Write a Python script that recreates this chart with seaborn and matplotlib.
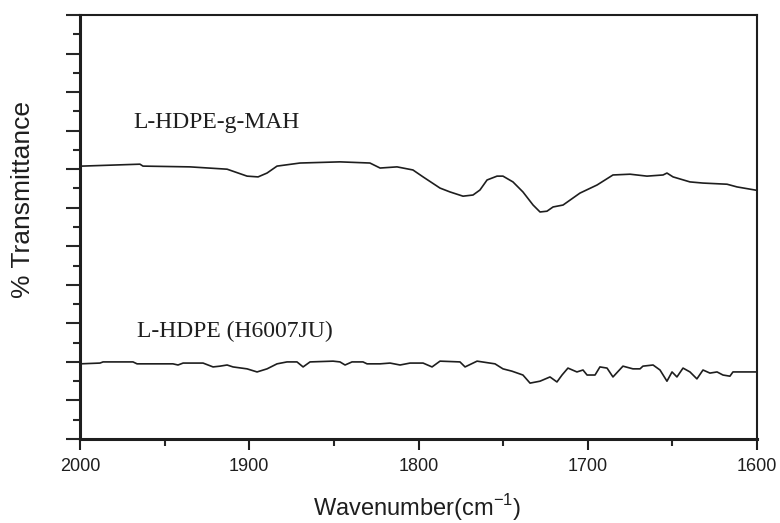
import matplotlib
matplotlib.use("Agg")
import matplotlib.pyplot as plt
from matplotlib.ticker import MultipleLocator, NullFormatter
import seaborn as sns
import pandas as pd

# Upper spectrum: L-HDPE-g-MAH
wn_mah = [2000, 1998.8, 1964.6, 1962.8, 1935.0, 1913.1, 1901.3, 1894.8, 1889.5, 1883.6,
          1870.0, 1846.4, 1828.7, 1822.7, 1812.7, 1803.3, 1797.3, 1787.3, 1781.4, 1773.7,
          1767.8, 1763.7, 1759.5, 1753.6, 1750.1, 1744.2, 1738.3, 1732.3, 1728.2, 1724.1,
          1720.5, 1714.6, 1704.6, 1694.5, 1685.1, 1675.0, 1665.0, 1655.5, 1653.2, 1649.6,
          1639.6, 1631.9, 1617.7, 1611.8, 1601.2, 1600]
tr_mah = [7.08, 7.08, 7.13, 7.08, 7.06, 7.00, 6.82, 6.80, 6.90, 7.08,
          7.16, 7.19, 7.16, 7.03, 7.06, 6.98, 6.80, 6.51, 6.41, 6.30,
          6.33, 6.46, 6.72, 6.82, 6.82, 6.67, 6.41, 6.07, 5.89, 5.91,
          6.02, 6.07, 6.38, 6.59, 6.85, 6.87, 6.82, 6.85, 6.90, 6.80,
          6.67, 6.64, 6.61, 6.54, 6.46, 6.45]

# Lower spectrum: L-HDPE (H6007JU)
wn_hdpe = [2000, 1988.2, 1986.4, 1968.7, 1966.3, 1945.1, 1942.1, 1939.1, 1927.3, 1921.4,
           1917.3, 1913.1, 1909.6, 1901.3, 1895.4, 1889.5, 1883.6, 1877.7, 1871.8, 1868.2,
           1864.1, 1850.5, 1846.4, 1843.4, 1839.3, 1832.8, 1830.4, 1822.7, 1816.8, 1810.9,
           1805.0, 1797.3, 1792.0, 1787.3, 1775.5, 1772.5, 1765.4, 1754.8, 1750.1, 1744.8,
           1738.3, 1734.1, 1728.2, 1722.3, 1718.2, 1715.2, 1711.7, 1706.4, 1702.8, 1700.4,
           1695.7, 1692.8, 1688.6, 1685.1, 1679.2, 1673.3, 1669.1, 1667.4, 1661.4, 1657.3,
           1653.2, 1650.2, 1647.3, 1643.7, 1639.6, 1635.5, 1631.9, 1627.8, 1623.6, 1620.1,
           1616.0, 1614.2, 1600.0]
tr_hdpe = [1.95, 1.97, 2.00, 2.00, 1.95, 1.95, 1.92, 1.97, 1.97, 1.87,
           1.89, 1.92, 1.87, 1.82, 1.74, 1.82, 1.95, 2.00, 2.00, 1.87,
           2.00, 2.02, 2.00, 1.92, 2.00, 2.00, 1.95, 1.95, 1.97, 1.92,
           1.97, 1.97, 1.87, 2.02, 2.00, 1.87, 2.02, 1.95, 1.82, 1.76,
           1.66, 1.45, 1.50, 1.61, 1.48, 1.66, 1.84, 1.74, 1.79, 1.66,
           1.66, 1.87, 1.84, 1.61, 1.89, 1.82, 1.82, 1.89, 1.92, 1.79,
           1.50, 1.74, 1.61, 1.84, 1.74, 1.56, 1.79, 1.71, 1.74, 1.66,
           1.63, 1.74, 1.74]

x_ticks = [2000, 1900, 1800, 1700, 1600]
labels = ["L-HDPE-g-MAH", "L-HDPE (H6007JU)"]

df = pd.concat([
    pd.DataFrame({"wn": wn_mah, "tr": tr_mah, "sample": labels[0]}),
    pd.DataFrame({"wn": wn_hdpe, "tr": tr_hdpe, "sample": labels[1]}),
])

sns.set_style("ticks")
plt.rcParams["font.family"] = ["Liberation Sans", "DejaVu Sans"]

fig = plt.figure(figsize=(7.8, 5.23), dpi=100)
ax = fig.add_axes([0.1026, 0.1606, 0.8679, 0.8107])

sns.lineplot(data=df, x="wn", y="tr", units="sample", estimator=None, sort=False,
             color="#1e1e1e", linewidth=1.2, ax=ax, legend=False)

ax.set_xlim(2000, 1600)
ax.set_ylim(0, 11)
ax.set_xticks(x_ticks)
ax.set_xticklabels([str(t) for t in x_ticks])
ax.xaxis.set_minor_locator(MultipleLocator(50))
ax.yaxis.set_major_locator(MultipleLocator(1))
ax.yaxis.set_minor_locator(MultipleLocator(0.5))
ax.yaxis.set_major_formatter(NullFormatter())

ax.tick_params(axis="x", which="major", direction="out", length=8, width=1.5,
               labelsize=13, pad=6, colors="#1e1e1e")
ax.tick_params(axis="x", which="minor", direction="out", length=5, width=1.5)
ax.tick_params(axis="y", which="major", direction="out", length=10, width=1.5)
ax.tick_params(axis="y", which="minor", direction="out", length=5, width=1.5)

for s in ax.spines.values():
    s.set_visible(True)
    s.set_linewidth(1.5)
    s.set_color("#1e1e1e")
ax.spines["left"].set_linewidth(2.2)
ax.spines["bottom"].set_linewidth(2.2)

ax.set_xlabel("Wavenumber(cm$^{\\mathregular{-1}}$)", fontsize=17, color="#1e1e1e")
ax.set_ylabel("% Transmittance", fontsize=19, color="#1e1e1e")
ax.xaxis.set_label_coords(0.498, -0.125)
ax.yaxis.set_label_coords(-0.066, 0.564)

ax.text(1968.7, 8.07, labels[0], family="Liberation Serif", fontsize=17,
        ha="left", va="baseline", color="#1e1e1e")
ax.text(1966.3, 2.65, labels[1], family="Liberation Serif", fontsize=17,
        ha="left", va="baseline", color="#1e1e1e")

fig.savefig("out.png", dpi=100)
